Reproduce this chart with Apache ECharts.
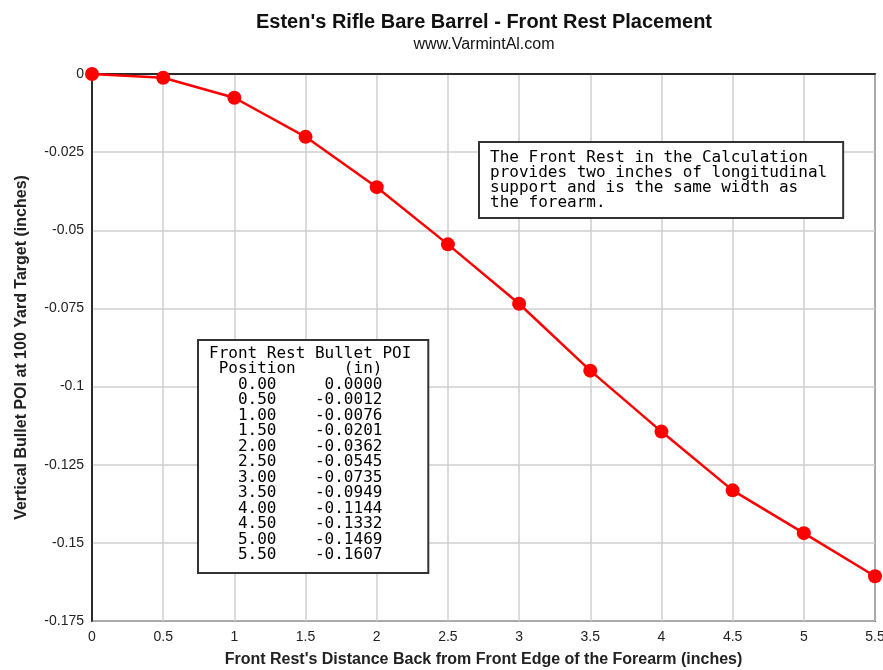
<!DOCTYPE html>
<html>
<head>
<meta charset="utf-8">
<script src="https://cdn.jsdelivr.net/npm/echarts@6/dist/echarts.min.js"></script>
<style>
  html, body { margin: 0; padding: 0; background: #fff; }
  #chart { width: 883px; height: 670px; }
</style>
</head>
<body>
<div id="chart"></div>
<script>
// front rest position (in) and bullet POI (in)
const positions = [0, 0.5, 1, 1.5, 2, 2.5, 3, 3.5, 4, 4.5, 5, 5.5];
const poi = [0, -0.0012, -0.0076, -0.0201, -0.0362, -0.0545, -0.0735, -0.0949, -0.1144, -0.1332, -0.1469, -0.1607];

const noteLines = [
  'The Front Rest in the Calculation',
  'provides two inches of longitudinal',
  'support and is the same width as',
  'the forearm.'
];

// table text, built from the data
const tableLines = ['Front Rest Bullet POI', ' Position     (in)'];
positions.forEach((p, i) => {
  const v = poi[i].toFixed(4);
  const left = ('   ' + p.toFixed(2));
  const pad = v[0] === '-' ? '    ' : '     ';
  tableLines.push(left + pad + v);
});

const font = '"Liberation Sans", Arial, sans-serif';
const mono = '"DejaVu Sans Mono", "Liberation Mono", monospace';

const myChart = echarts.init(document.getElementById('chart'));
const option = {
  backgroundColor: '#fff',
  animation: false,
  title: {
    text: "Esten's Rifle Bare Barrel - Front Rest Placement",
    subtext: 'www.VarmintAl.com',
    left: 479,
    top: 7,
    textAlign: 'center',
    itemGap: 5,
    textStyle: { fontFamily: font, fontSize: 20, fontWeight: 'bold', color: '#111' },
    subtextStyle: { fontFamily: font, fontSize: 16, color: '#111' }
  },
  grid: {
    left: 92, right: 8, top: 74, bottom: 49,
    outerBoundsMode: 'none',
    show: true, borderColor: '#000', borderWidth: 1.5
  },
  xAxis: {
    type: 'value',
    min: 0, max: 5.5, interval: 0.5,
    name: "Front Rest's Distance Back from Front Edge of the Forearm (inches)",
    nameLocation: 'middle',
    nameGap: 31,
    nameMoveOverlap: false,
    nameTextStyle: { fontFamily: font, fontSize: 16, fontWeight: 'bold', color: '#222' },
    axisLine: { lineStyle: { color: '#000', width: 1.5 } },
    axisTick: { show: false },
    axisLabel: { fontFamily: font, fontSize: 14, color: '#222', margin: 9 },
    splitLine: { lineStyle: { color: '#cfcfcf', width: 1.5 } }
  },
  yAxis: {
    type: 'value',
    min: -0.175, max: 0, interval: 0.025,
    name: 'Vertical Bullet POI at 100 Yard Target (inches)',
    nameLocation: 'middle',
    nameGap: 62,
    nameMoveOverlap: false,
    nameTextStyle: { fontFamily: font, fontSize: 16, fontWeight: 'bold', color: '#222' },
    axisLine: { lineStyle: { color: '#000', width: 1.5 } },
    axisTick: { show: false },
    axisLabel: {
      fontFamily: font, fontSize: 14, color: '#222', margin: 8,
      formatter: v => String(+v.toFixed(3))
    },
    splitLine: { lineStyle: { color: '#cfcfcf', width: 1.5 } }
  },
  series: [{
    type: 'line',
    data: positions.map((p, i) => [p, poi[i]]),
    symbol: 'circle',
    symbolSize: 14,
    clip: false,
    lineStyle: { color: '#ff0000', width: 2.5 },
    itemStyle: { color: '#ff0000' }
  }],
  graphic: [
    {
      type: 'text',
      left: 478, top: 141,
      z: 100,
      style: {
        text: noteLines.join('\n'),
        font: '16px ' + mono,
        lineHeight: 15,
        fill: '#000',
        backgroundColor: '#fff',
        borderColor: '#333',
        borderWidth: 2,
        padding: [7, 15, 7, 10]
      }
    },
    {
      type: 'text',
      left: 197, top: 339,
      z: 100,
      style: {
        text: tableLines.join('\n'),
        font: '16px ' + mono,
        lineHeight: 15.5,
        fill: '#000',
        backgroundColor: '#fff',
        borderColor: '#333',
        borderWidth: 2,
        padding: [5, 16, 9, 10]
      }
    }
  ]
};
myChart.setOption(option);
</script>
</body>
</html>
